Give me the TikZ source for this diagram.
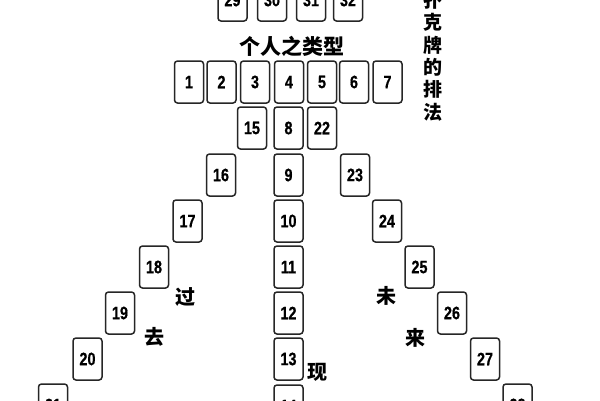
\documentclass[tikz,border=0pt]{standalone}
\usepackage{fontspec}
\newfontfamily\numfont{Liberation Sans}[UprightFont={* Bold}, FakeStretch=0.8, FakeBold=0.6]
\newfontfamily\cjk{Noto Sans CJK SC}
\begin{document}
\begin{tikzpicture}[x=1pt,y=-1pt,
  card/.style={draw=black!85, line width=1.5pt, rounded corners=3pt,
    minimum width=29pt, minimum height=42pt, inner sep=0pt,
    font=\numfont\fontsize{18}{18}\selectfont},
  lbl/.style={font=\cjk\bfseries\fontsize{20}{20}\selectfont, inner sep=0pt},
  ]
\useasboundingbox (0,0) rectangle (600,400);
\clip (0,0) rectangle (600,400);
\fill[white] (0,0) rectangle (600,400);
% top row (cut off)
\node[card] (c29) at (232.5,0) {29};
\node[card] (c30) at (272,0) {30};
\node[card] (c31) at (311,0) {31};
\node[card] (c32) at (348,0) {32};
\node[lbl, font=\cjk\bfseries\fontsize{21}{21}\selectfont] (type) at (292,46) {个人之类型};
% row 1-7
\node[card] (c1) at (189,82) {1};
\node[card] (c2) at (221.5,82) {2};
\node[card] (c3) at (255,82) {3};
\node[card] (c4) at (289,82) {4};
\node[card] (c5) at (322,82) {5};
\node[card] (c6) at (354,82) {6};
\node[card] (c7) at (387.5,82) {7};
% row 2
\node[card] (c15) at (252,128) {15};
\node[card] (c8) at (288.5,128) {8};
\node[card] (c22) at (322,128) {22};
% centre column
\node[card] (c9) at (288.5,175) {9};
\node[card] (c10) at (288.5,221) {10};
\node[card] (c11) at (288.5,267) {11};
\node[card] (c12) at (288.5,313) {12};
\node[card] (c13) at (288.5,359) {13};
\node[card] (c14) at (288.5,406) {14};
% left diagonal
\node[card] (c16) at (221,175) {16};
\node[card] (c17) at (187.5,221) {17};
\node[card] (c18) at (154,267) {18};
\node[card] (c19) at (120,313) {19};
\node[card] (c20) at (87.5,359) {20};
\node[card] (c21) at (53,405) {21};
% right diagonal
\node[card] (c23) at (355,175) {23};
\node[card] (c24) at (387,221) {24};
\node[card] (c25) at (419.5,267) {25};
\node[card] (c26) at (452,313) {26};
\node[card] (c27) at (485,359) {27};
\node[card] (c28) at (517.5,405) {28};
% labels
\node[lbl] (guo) at (185,297) {过};
\node[lbl] (qu) at (154,337) {去};
\node[lbl] (xian) at (317,372) {现};
\node[lbl] (wei) at (386,296) {未};
\node[lbl] (lai) at (415,338) {来};
\node[lbl, align=center, font=\cjk\bfseries\fontsize{19}{22.4}\selectfont] (title) at (433,56) {扑\\克\\牌\\的\\排\\法};
\end{tikzpicture}
\end{document}
